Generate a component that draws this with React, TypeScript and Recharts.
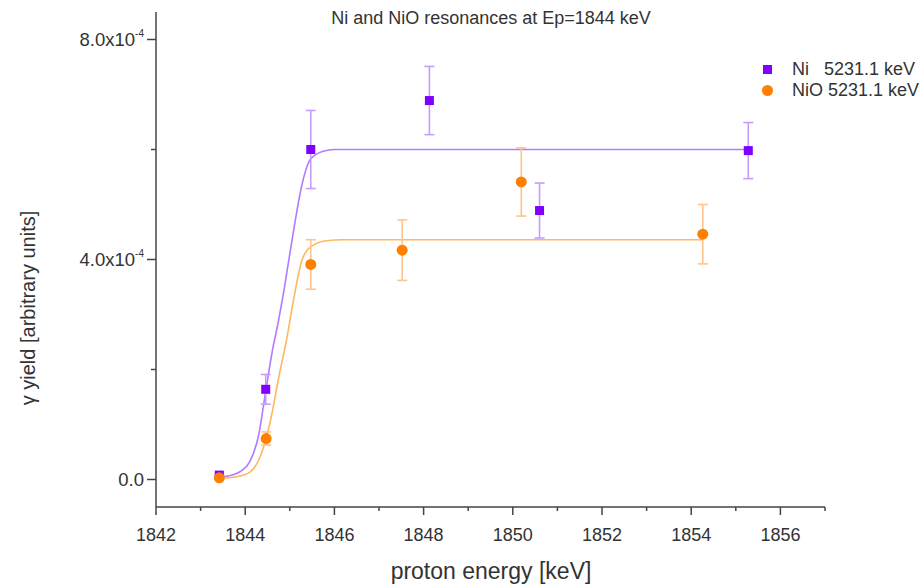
import React from 'react';
import { ComposedChart, Scatter, Line, XAxis, YAxis, ErrorBar } from 'recharts';

// Measured data points (x in keV, y in arbitrary units)
const niX = [1843.42, 1844.46, 1845.47, 1848.13, 1850.6, 1855.28];
const niY = [0.08e-4, 1.64e-4, 6.0e-4, 6.89e-4, 4.89e-4, 5.98e-4];
const niErr = [0.02e-4, 0.27e-4, 0.71e-4, 0.62e-4, 0.5e-4, 0.51e-4];

const nioX = [1843.42, 1844.47, 1845.47, 1847.52, 1850.19, 1854.26];
const nioY = [0.03e-4, 0.745e-4, 3.91e-4, 4.17e-4, 5.41e-4, 4.46e-4];
const nioErr = [0.02e-4, 0.12e-4, 0.45e-4, 0.55e-4, 0.62e-4, 0.54e-4];

// Fit curves
const niFitX = [1843.42, 1843.7, 1843.9, 1844.1, 1844.3, 1844.45, 1844.6, 1844.75, 1844.85, 1845.0, 1845.1, 1845.27, 1845.47, 1845.75, 1846.0, 1848.0, 1852.0, 1855.28];
const niFitY = [0.04e-4, 0.08e-4, 0.15e-4, 0.32e-4, 0.8e-4, 1.55e-4, 2.3e-4, 2.9e-4, 3.35e-4, 4.1e-4, 4.6e-4, 5.35e-4, 5.83e-4, 5.97e-4, 6.0e-4, 6.0e-4, 6.0e-4, 6.0e-4];

const nioFitX = [1843.42, 1843.8, 1844.1, 1844.3, 1844.47, 1844.6, 1844.75, 1844.93, 1845.08, 1845.27, 1845.47, 1845.82, 1846.2, 1850.0, 1854.26];
const nioFitY = [0.02e-4, 0.05e-4, 0.13e-4, 0.35e-4, 0.75e-4, 1.2e-4, 1.85e-4, 2.55e-4, 3.25e-4, 3.98e-4, 4.23e-4, 4.34e-4, 4.36e-4, 4.36e-4, 4.36e-4];

const xTicks = [1842, 1843, 1844, 1845, 1846, 1847, 1848, 1849, 1850, 1851, 1852, 1853, 1854, 1855, 1856, 1857];
const yTicks = [0, 2e-4, 4e-4, 6e-4, 8e-4];
const yTickLabels = ['0.0', '', '4.0x10', '', '8.0x10'];
const yTickExps = ['', '', '-4', '', '-4'];

const legendLabels = ['Ni   5231.1 keV', 'NiO 5231.1 keV'];
const title = 'Ni and NiO resonances at Ep=1844 keV';
const xTitle = 'proton energy [keV]';
const yTitle = 'γ yield [arbitrary units]';

const NI_COLOR = '#7f00ff';
const NI_LIGHT = '#c69cff';
const NI_FIT = '#b37bff';
const NIO_COLOR = '#ff8000';
const NIO_LIGHT = '#ffc48c';
const NIO_FIT = '#ffb85e';
const AXIS = '#444';
const TEXT = '#333';
const FONT = '"Liberation Sans", Arial, sans-serif';

const niData = niX.map((x, i) => ({ x, y: niY[i], err: niErr[i] }));
const nioData = nioX.map((x, i) => ({ x, y: nioY[i], err: nioErr[i] }));
const niFit = niFitX.map((x, i) => ({ x, y: niFitY[i] }));
const nioFit = nioFitX.map((x, i) => ({ x, y: nioFitY[i] }));

const XTick = (props: any) => {
  const { x, y, payload } = props;
  const v = payload.value;
  const major = v % 2 === 0;
  return (
    <g>
      <line x1={x} x2={x} y1={y} y2={y + (major ? 8 : 4)} stroke={AXIS} strokeWidth={1.5} />
      {major && (
        <text x={x} y={y + 34} textAnchor="middle" fontSize={18} fill={TEXT} fontFamily={FONT}>
          {v}
        </text>
      )}
    </g>
  );
};

const YTick = (props: any) => {
  const { x, y, index } = props;
  const label = yTickLabels[index];
  const exp = yTickExps[index];
  const major = label !== '';
  return (
    <g>
      <line x1={x} x2={x - (major ? 9 : 5)} y1={y} y2={y} stroke={AXIS} strokeWidth={1.5} />
      {major && (
        <text x={x - 12} y={y + 6} textAnchor="end" fontSize={18.5} fill={TEXT} fontFamily={FONT}>
          {label}
          {exp && (
            <tspan fontSize={10} dy={-9}>
              {exp}
            </tspan>
          )}
        </text>
      )}
    </g>
  );
};

const SquareShape = (props: any) => {
  const { cx, cy } = props;
  return <rect x={cx - 4.5} y={cy - 4.5} width={9} height={9} fill={NI_COLOR} />;
};

const CircleShape = (props: any) => {
  const { cx, cy } = props;
  return <circle cx={cx} cy={cy} r={5.5} fill={NIO_COLOR} />;
};

const LegendBox = () => (
  <div style={{ position: 'absolute', left: 763, top: 59, fontFamily: FONT, fontSize: 18, color: TEXT, lineHeight: '21px' }}>
    <div style={{ display: 'flex', alignItems: 'center', whiteSpace: 'pre' }}>
      <span style={{ display: 'inline-block', width: 9, height: 9, background: NI_COLOR, marginRight: 20 }} />
      {legendLabels[0]}
    </div>
    <div style={{ display: 'flex', alignItems: 'center', whiteSpace: 'pre' }}>
      <span style={{ display: 'inline-block', width: 11, height: 11, borderRadius: '50%', background: NIO_COLOR, marginLeft: -1, marginRight: 19 }} />
      {legendLabels[1]}
    </div>
  </div>
);

export default function App() {
  return (
    <div style={{ position: 'absolute', left: 0, top: 0, width: 919, height: 585, background: '#fff', fontFamily: FONT }}>
      <ComposedChart width={919} height={585} margin={{ top: 12, right: 94, bottom: 0, left: 0 }}>
        <XAxis
          type="number"
          dataKey="x"
          domain={[1842, 1857]}
          ticks={xTicks}
          interval={0}
          allowDataOverflow
          height={78}
          tickSize={0}
          tickMargin={0}
          tickLine={false}
          axisLine={{ stroke: AXIS, strokeWidth: 1.5 }}
          tick={<XTick />}
        />
        <YAxis
          type="number"
          domain={[-0.5e-4, 8.5e-4]}
          ticks={yTicks}
          interval={0}
          allowDataOverflow
          width={156}
          tickSize={0}
          tickMargin={0}
          tickLine={false}
          axisLine={{ stroke: AXIS, strokeWidth: 1.5 }}
          tick={<YTick />}
        />
        <Line data={niFit} dataKey="y" type="monotone" stroke={NI_FIT} strokeWidth={1.6} dot={false} activeDot={false} isAnimationActive={false} legendType="none" />
        <Line data={nioFit} dataKey="y" type="monotone" stroke={NIO_FIT} strokeWidth={1.6} dot={false} activeDot={false} isAnimationActive={false} legendType="none" />
        <Scatter data={niData} dataKey="y" shape={<SquareShape />} isAnimationActive={false}>
          <ErrorBar dataKey="err" direction="y" width={5} stroke={NI_LIGHT} strokeWidth={1.6} />
        </Scatter>
        <Scatter data={nioData} dataKey="y" shape={<CircleShape />} isAnimationActive={false}>
          <ErrorBar dataKey="err" direction="y" width={5} stroke={NIO_LIGHT} strokeWidth={1.6} />
        </Scatter>
      </ComposedChart>
      <LegendBox />
      <div style={{ position: 'absolute', left: 0, width: 982, top: 6, textAlign: 'center', fontSize: 18, color: TEXT, lineHeight: '24px' }}>
        {title}
      </div>
      <div style={{ position: 'absolute', left: 0, width: 982, top: 557, textAlign: 'center', fontSize: 23, color: TEXT, lineHeight: '28px' }}>
        {xTitle}
      </div>
      <div
        style={{
          position: 'absolute',
          left: 28,
          top: 308,
          transform: 'translate(-50%, -50%) rotate(-90deg)',
          fontSize: 20,
          color: TEXT,
          whiteSpace: 'nowrap',
          lineHeight: '24px',
        }}
      >
        {yTitle}
      </div>
    </div>
  );
}
